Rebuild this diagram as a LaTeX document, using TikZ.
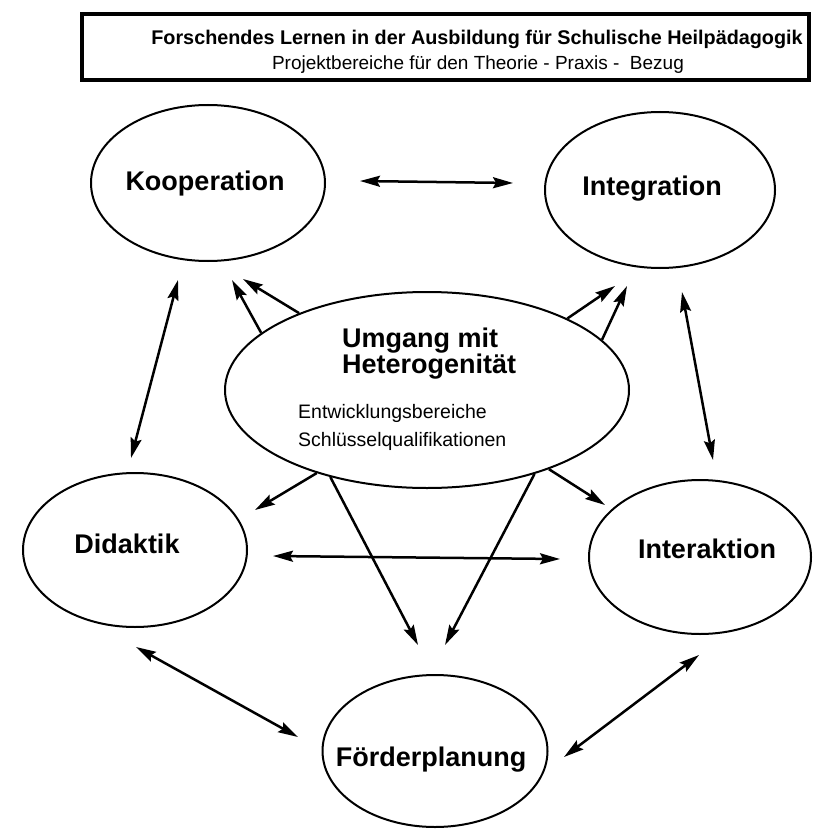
\documentclass[tikz,border=0pt]{standalone}
\usepackage{fontspec}
\setmainfont{Liberation Sans}
\usetikzlibrary{shapes.geometric,arrows.meta}
\begin{document}
\begin{tikzpicture}[x=1pt,y=-1pt,
  bub/.style={draw, ellipse, line width=2pt, inner sep=0pt},
  lab/.style={font=\bfseries\fontsize{27}{27}\selectfont, inner sep=0pt, anchor=base},
  sm/.style={font=\fontsize{19.5}{20}\selectfont, inner sep=0pt, anchor=base west},
  arr/.style={line width=2.5pt, -{Stealth[length=20pt,width=11pt,inset=3pt]}},
  darr/.style={line width=2.5pt, {Stealth[length=20pt,width=11pt,inset=3pt]}-{Stealth[length=20pt,width=11pt,inset=3pt]}}]
\useasboundingbox (0,0) rectangle (815,829);
\fill[white] (0,0) rectangle (815,829);

% title
\node[draw, line width=3.8pt, minimum width=727pt, minimum height=66pt, inner sep=0pt] (box) at (445.5,47) {};
\node[font=\bfseries\fontsize{19.8}{20}\selectfont, inner sep=0pt, anchor=base] (t1) at (477,45) {Forschendes Lernen in der Ausbildung für Schulische Heilpädagogik};
\node[font=\fontsize{19}{20}\selectfont, inner sep=0pt, anchor=base] (t2) at (478,70) {Projektbereiche für den Theorie - Praxis -\ \ Bezug};

% ellipses
\node[bub, minimum width=234pt, minimum height=156pt] (K) at (208,183) {};
\node[bub, minimum width=230pt, minimum height=156pt] (I) at (660,190) {};
\node[bub, minimum width=404pt, minimum height=196pt] (U) at (427,390) {};
\node[bub, minimum width=224pt, minimum height=154pt] (D) at (135,550) {};
\node[bub, minimum width=222pt, minimum height=154pt] (N) at (700,557) {};
\node[bub, minimum width=225pt, minimum height=152pt] (F) at (435,751) {};

% labels
\node[lab] (Kt) at (205,190) {Kooperation};
\node[lab] (It) at (652,196) {Integration};
\node[lab] (Dt) at (127,553) {Didaktik};
\node[lab] (Nt) at (707,558) {Interaktion};
\node[lab] (Ft) at (431,766) {Förderplanung};
\node[lab, anchor=base west] (Ut1) at (342,347) {Umgang mit};
\node[lab, anchor=base west] (Ut2) at (342,373) {Heterogenität};
\node[sm] (Us1) at (298,418) {Entwicklungsbereiche};
\node[sm] (Us2) at (298,446) {Schlüsselqualifikationen};

% free arrow ends
\coordinate (kiL) at (360,181);
\coordinate (kiR) at (513,183);
\coordinate (kdT) at (178,280);
\coordinate (kdB) at (131,458);
\coordinate (inT) at (682,292);
\coordinate (inB) at (713,460);
\coordinate (dnL) at (273,556);
\coordinate (dnR) at (560,559);
\coordinate (dfT) at (136,647);
\coordinate (dfB) at (298,737);
\coordinate (nfT) at (699,655);
\coordinate (nfB) at (564,757);
\coordinate (aK1) at (232,280);
\coordinate (aK2) at (243,279);
\coordinate (aI1) at (615,286);
\coordinate (aI2) at (627,286);
\coordinate (aD) at (255,510);
\coordinate (aN) at (605,505);
\coordinate (aF1) at (418,645);
\coordinate (aF2) at (445,645);

% double arrows
\draw[darr] (kiL) -- (kiR);
\draw[darr] (kdT) -- (kdB);
\draw[darr] (inT) -- (inB);
\draw[darr] (dnL) -- (dnR);
\draw[darr] (dfT) -- (dfB);
\draw[darr] (nfT) -- (nfB);

% arrows from Umgang
\draw[arr] (U.161.4) -- (aK1);
\draw[arr] (U.149.2) -- (aK2);
\draw[arr] (U.27.6) -- (aI1);
\draw[arr] (U.16.1) -- (aI2);
\draw[arr] (U.217.8) -- (aD);
\draw[arr] (U.-33.7) -- (aN);
\draw[arr] (U.222.2) -- (aF1);
\draw[arr] (U.-38.2) -- (aF2);
\end{tikzpicture}
\end{document}
